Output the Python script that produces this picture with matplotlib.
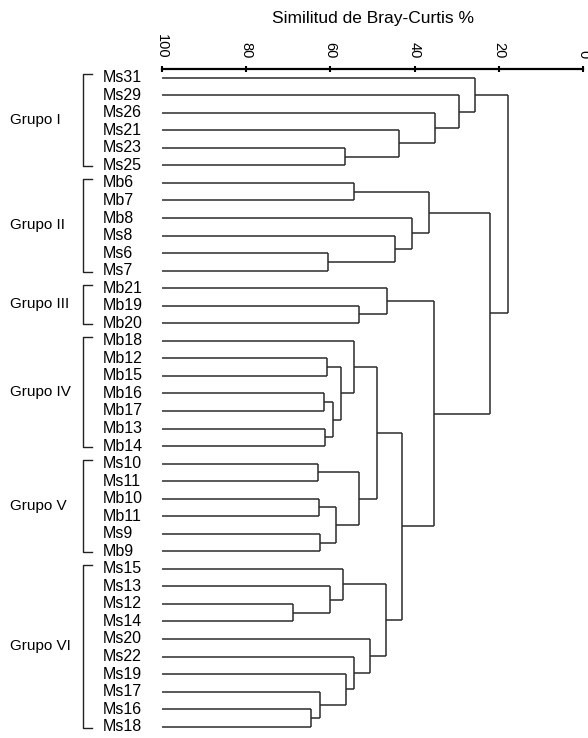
import matplotlib
matplotlib.use("Agg")
import matplotlib.pyplot as plt

plt.rcParams['font.family'] = ['Liberation Sans', 'DejaVu Sans']

# leaf order, top to bottom
leaves = ["Ms31", "Ms29", "Ms26", "Ms21", "Ms23", "Ms25",
          "Mb6", "Mb7", "Mb8", "Ms8", "Ms6", "Ms7",
          "Mb21", "Mb19", "Mb20",
          "Mb18", "Mb12", "Mb15", "Mb16", "Mb17", "Mb13", "Mb14",
          "Ms10", "Ms11", "Mb10", "Mb11", "Ms9", "Mb9",
          "Ms15", "Ms13", "Ms12", "Ms14", "Ms20", "Ms22", "Ms19", "Ms17", "Ms16", "Ms18"]

# merges: (left, right, similarity %); str = leaf, int = earlier merge index
merges = [
    ("Ms23", "Ms25", 56.6),   # 0
    ("Ms21", 0, 43.7),        # 1
    ("Ms26", 1, 35.2),        # 2
    ("Ms29", 2, 29.4),        # 3
    ("Ms31", 3, 25.7),        # 4
    ("Mb6", "Mb7", 54.5),     # 5
    ("Ms6", "Ms7", 60.6),     # 6
    ("Ms8", 6, 44.6),         # 7
    ("Mb8", 7, 40.7),         # 8
    (5, 8, 36.6),             # 9
    ("Mb19", "Mb20", 53.3),   # 10
    ("Mb21", 10, 46.6),       # 11
    ("Mb12", "Mb15", 60.8),   # 12
    ("Mb16", "Mb17", 61.6),   # 13
    ("Mb13", "Mb14", 61.4),   # 14
    (13, 14, 59.5),           # 15
    (12, 15, 57.4),           # 16
    ("Mb18", 16, 54.5),       # 17
    ("Ms10", "Ms11", 62.9),   # 18
    ("Mb10", "Mb11", 62.8),   # 19
    ("Ms9", "Mb9", 62.5),     # 20
    (19, 20, 58.6),           # 21
    (18, 21, 53.3),           # 22
    (17, 22, 49.0),           # 23
    ("Ms12", "Ms14", 68.9),   # 24
    ("Ms13", 24, 60.0),       # 25
    ("Ms15", 25, 57.1),       # 26
    ("Ms16", "Ms18", 64.5),   # 27
    ("Ms17", 27, 62.5),       # 28
    ("Ms19", 28, 56.2),       # 29
    ("Ms22", 29, 54.3),       # 30
    ("Ms20", 30, 50.6),       # 31
    (26, 31, 46.7),           # 32
    (23, 32, 43.1),           # 33
    (11, 33, 35.4),           # 34
    (9, 34, 22.1),            # 35
    (4, 35, 17.7),            # 36
]

groups = [("Grupo I", "Ms31", "Ms25"),
          ("Grupo II", "Mb6", "Ms7"),
          ("Grupo III", "Mb21", "Mb20"),
          ("Grupo IV", "Mb18", "Mb14"),
          ("Grupo V", "Ms10", "Mb9"),
          ("Grupo VI", "Ms15", "Ms18")]

xticks = [100, 80, 60, 40, 20, 0]

W, H = 588, 738
fig = plt.figure(figsize=(W / 100, H / 100), dpi=100)
ax = fig.add_axes([162 / W, 0, 421 / W, 1 - 69 / H])
ax.set_xlim(100, 0)
ax.set_ylim(37.645, -0.496)

line_kw = dict(color='#2b2b2b', lw=1.1, solid_capstyle='butt')

pos = {name: i for i, name in enumerate(leaves)}
nodes = []


def child(c):
    if isinstance(c, str):
        return pos[c], 100.0
    return nodes[c]


for a, b, s in merges:
    ya, ha = child(a)
    yb, hb = child(b)
    ax.plot([ha, s], [ya, ya], **line_kw)
    ax.plot([hb, s], [yb, yb], **line_kw)
    ax.plot([s, s], [ya, yb], **line_kw)
    nodes.append(((ya + yb) / 2, s))

# leaf labels
for i, name in enumerate(leaves):
    ax.text(114.0, i, name, ha='left', va='center', fontsize=11.5, clip_on=False)

# group brackets
bx, tx = 118.7, 116.7
for label, first, last in groups:
    y0, y1 = pos[first] - 0.2, pos[last] + 0.05
    ax.plot([tx, bx, bx, tx], [y0, y0, y1, y1], color='#222222', lw=1.0,
            clip_on=False)
    ax.text(136.1, (y0 + y1) / 2, label, ha='left', va='center', fontsize=11,
            clip_on=False)

# top axis
for side in ['left', 'right', 'bottom']:
    ax.spines[side].set_visible(False)
ax.spines['top'].set_linewidth(1.6)
ax.set_yticks([])
ax.xaxis.tick_top()
ax.set_xticks(xticks)
ax.tick_params(axis='x', direction='inout', length=5, width=1.5,
               labelsize=10.5, labelrotation=-90, pad=5)

fig.text(372.5 / W, 1 - 18 / H, "Similitud de Bray-Curtis %", ha='center',
         va='center', fontsize=12.5)

fig.savefig("out.png", dpi=100)
